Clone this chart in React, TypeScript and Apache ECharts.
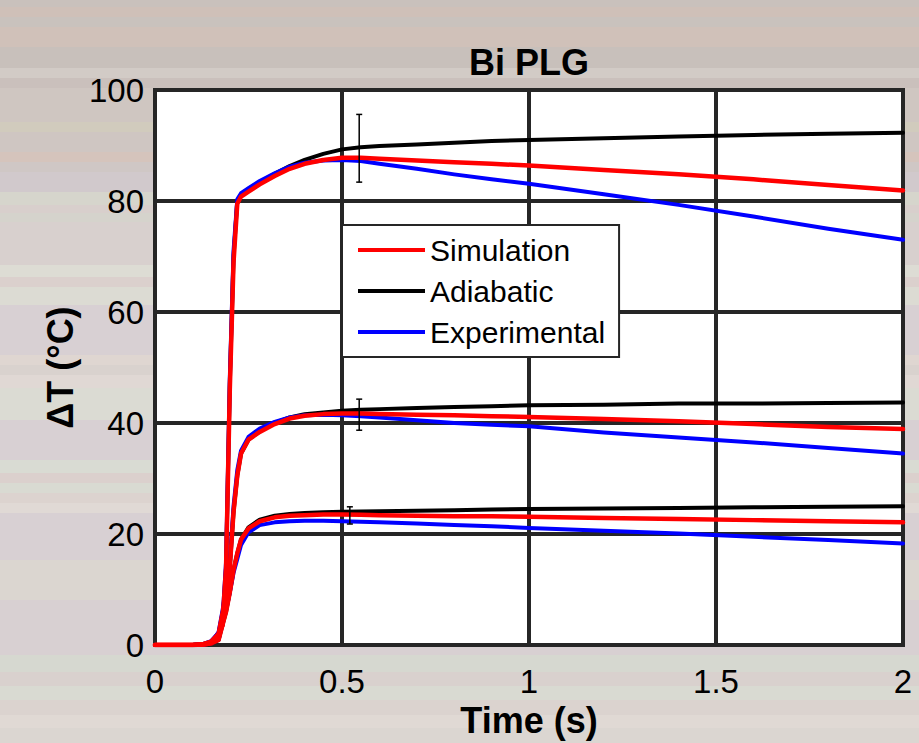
import React, { useEffect, useRef } from "react";
import * as echarts from "echarts";

// ---------- data ----------
const time = [0, 0.05, 0.1, 0.13, 0.15, 0.17, 0.18, 0.19, 0.2, 0.21, 0.22, 0.23, 0.25, 0.28, 0.32, 0.36, 0.4, 0.45, 0.5, 0.55, 0.6, 0.7, 0.8, 0.9, 1.0, 1.2, 1.4, 1.6, 1.8, 2.0];

const highAdiabatic = [0, 0, 0, 0.1, 0.3, 0.9, 3.5, 14, 47, 70, 80, 81.2, 82.2, 83.4, 84.9, 86.3, 87.4, 88.5, 89.3, 89.7, 89.9, 90.2, 90.5, 90.8, 91.0, 91.3, 91.6, 91.9, 92.1, 92.3];
const highSimulation = [0, 0, 0, 0.1, 0.3, 0.9, 3.5, 14, 46, 69, 79.5, 80.8, 81.7, 83.0, 84.5, 85.8, 86.7, 87.4, 87.8, 87.8, 87.6, 87.3, 87.0, 86.7, 86.4, 85.6, 84.8, 83.9, 82.9, 81.9];
const highExperimental = [0, 0, 0, 0.1, 0.3, 1.0, 4, 15, 48, 71, 80.3, 81.4, 82.3, 83.6, 85.0, 86.2, 86.9, 87.3, 87.4, 87.2, 86.7, 85.8, 84.8, 83.9, 83.1, 81.2, 79.3, 77.2, 75.0, 73.0];

const midAdiabatic = [0, 0, 0, 0.1, 0.3, 2, 5.5, 9, 14, 24, 30.5, 34.5, 37, 38.5, 40, 41, 41.6, 41.9, 42.2, 42.4, 42.5, 42.7, 42.9, 43.0, 43.2, 43.3, 43.5, 43.5, 43.6, 43.7];
const midSimulation = [0, 0, 0, 0.1, 0.3, 2, 5.5, 9, 14, 24, 30.5, 34.5, 37, 38.4, 39.8, 40.8, 41.3, 41.6, 41.7, 41.7, 41.6, 41.5, 41.4, 41.2, 41.1, 40.7, 40.3, 39.8, 39.3, 38.9];
const midExperimental = [0, 0, 0, 0.1, 0.4, 2.3, 6, 10, 15, 25, 31.5, 35, 37.5, 39, 40.2, 41, 41.4, 41.5, 41.4, 41.2, 41.0, 40.5, 40.0, 39.7, 39.4, 38.3, 37.4, 36.5, 35.5, 34.5];

const lowAdiabatic = [0, 0, 0, 0.2, 0.6, 2, 3.5, 6, 9.5, 13.5, 16.5, 19, 21.2, 22.6, 23.3, 23.6, 23.8, 23.9, 24.0, 24.05, 24.1, 24.2, 24.3, 24.4, 24.5, 24.6, 24.7, 24.8, 24.9, 25.0];
const lowSimulation = [0, 0, 0, 0.2, 0.6, 2, 3.5, 6, 9.5, 13.5, 16.5, 19, 21, 22.3, 23.0, 23.3, 23.4, 23.5, 23.5, 23.45, 23.4, 23.3, 23.2, 23.2, 23.1, 22.9, 22.7, 22.5, 22.3, 22.1];
const lowExperimental = [0, 0, 0, 0.2, 0.7, 2.2, 3.8, 6.3, 9.5, 13, 15.5, 18, 20.3, 21.6, 22.1, 22.3, 22.4, 22.4, 22.3, 22.2, 22.1, 21.9, 21.6, 21.4, 21.1, 20.6, 20.1, 19.5, 18.9, 18.3];

// [time, low, high]
const errorBars = [
  [0.546, 83.4, 95.6],
  [0.546, 38.7, 44.3],
  [0.521, 21.8, 24.9],
];

const legendNames = ["Simulation", "Adiabatic", "Experimental"];
const xMin = 0, xMax = 2, xStep = 0.5;
const yMin = 0, yMax = 100, yStep = 20;

// ---------- styling ----------
const FONT = "'Liberation Sans', Arial, Helvetica, sans-serif";
const GRID = "#262626";
const COLORS: Record<string, string> = { Simulation: "#ff0000", Adiabatic: "#000000", Experimental: "#0000ff" };

const stripes: [number, number, string][] = [
  [0, 7, "#c9c1bc"], [7, 17, "#cfc0b8"], [17, 27, "#c9c2bd"], [27, 47, "#d0c1b9"],
  [47, 68, "#c8c0bb"], [68, 78, "#d2cbc6"], [78, 88, "#cac0bc"], [88, 122, "#cfc6c1"],
  [122, 132, "#d1cbbd"], [132, 152, "#cfc6c2"], [152, 162, "#d5c4bc"], [162, 172, "#cfc7c5"],
  [172, 192, "#d1c9cc"], [192, 205, "#d6d5cc"], [205, 213, "#d8cfcc"], [213, 222, "#d5d3cc"],
  [222, 265, "#d8d0ce"], [265, 277, "#dddcd4"], [277, 287, "#dbd0cd"], [287, 305, "#dcdbd3"],
  [305, 355, "#d8d0d3"], [355, 365, "#dfd6d1"], [365, 375, "#d9d2ce"], [375, 388, "#e0d8d4"],
  [388, 420, "#dbdbd3"], [420, 460, "#d8d0d3"], [460, 473, "#d9dbd3"], [473, 483, "#dbd0cd"],
  [483, 493, "#d9dad2"], [493, 503, "#dcd3cf"], [503, 513, "#e0d9d5"], [513, 560, "#d8d0d3"],
  [560, 600, "#dbd6d0"], [600, 655, "#d8d0d2"], [655, 672, "#d6d8d0"], [672, 686, "#d9d1ce"],
  [686, 700, "#d9dad2"], [700, 715, "#dbd3cf"], [715, 728, "#e0d9d4"], [728, 743, "#dbd6d1"],
];
const bgGradient =
  "linear-gradient(to bottom, " +
  stripes.map(([a, b, c]) => `${c} ${a}px, ${c} ${b}px`).join(", ") +
  ")";

function pairs(ys: number[]) {
  return time.map((t, i) => [t, ys[i]]);
}

export default function App() {
  const ref = useRef<HTMLDivElement>(null);

  useEffect(() => {
    if (!ref.current) return;
    const chart = echarts.init(ref.current, null, { renderer: "svg" });

    const groups = [
      { name: "Adiabatic", sets: [highAdiabatic, midAdiabatic, lowAdiabatic], width: 4 },
      { name: "Experimental", sets: [highExperimental, midExperimental, lowExperimental], width: 4 },
      { name: "Simulation", sets: [highSimulation, midSimulation, lowSimulation], width: 4.5 },
    ];

    const lineSeries: any[] = [];
    groups.forEach((g) => {
      g.sets.forEach((ys) => {
        lineSeries.push({
          type: "line",
          name: g.name,
          data: pairs(ys),
          showSymbol: false,
          symbol: "none",
          smooth: false,
          color: COLORS[g.name],
          lineStyle: { color: COLORS[g.name], width: g.width, join: "round", cap: "round" },
          itemStyle: { color: COLORS[g.name] },
          silent: true,
          z: 3,
        });
      });
    });

    const errSeries = {
      type: "custom",
      name: "error",
      data: errorBars,
      encode: { x: 0, y: [1, 2] },
      silent: true,
      z: 10,
      renderItem: (params: any, api: any) => {
        const x = api.value(0);
        const lo = api.coord([x, api.value(1)]);
        const hi = api.coord([x, api.value(2)]);
        const cap = 3;
        const st = { stroke: "#000", lineWidth: 1.5 };
        return {
          type: "group",
          children: [
            { type: "line", shape: { x1: lo[0], y1: lo[1], x2: hi[0], y2: hi[1] }, style: st },
            { type: "line", shape: { x1: lo[0] - cap, y1: lo[1], x2: lo[0] + cap, y2: lo[1] }, style: st },
            { type: "line", shape: { x1: hi[0] - cap, y1: hi[1], x2: hi[0] + cap, y2: hi[1] }, style: st },
          ],
        };
      },
    };

    chart.setOption({
      animation: false,
      backgroundColor: "transparent",
      textStyle: { fontFamily: FONT },
      graphic: [
        {
          type: "text",
          x: 529,
          y: 62,
          z: 20,
          style: {
            text: "Bi PLG",
            font: `bold 36px ${FONT}`,
            fill: "#000",
            textAlign: "center",
            textVerticalAlign: "middle",
          },
        },
      ],
      grid: {
        left: 155,
        right: 16,
        top: 90,
        bottom: 98,
        show: true,
        backgroundColor: "#ffffff",
        borderColor: GRID,
        borderWidth: 4,
        containLabel: false,
        outerBoundsMode: "none",
      },
      legend: {
        data: legendNames,
        orient: "vertical",
        left: 342,
        top: 225,
        backgroundColor: "#ffffff",
        borderColor: GRID,
        borderWidth: 2,
        borderRadius: 0,
        padding: [10, 14, 10, 16],
        itemWidth: 67,
        itemHeight: 4,
        itemGap: 11,
        icon: "rect",
        selectedMode: false,
        textStyle: { fontSize: 30, fontFamily: FONT, color: "#000", lineHeight: 30 },
        z: 15,
      },
      xAxis: {
        type: "value",
        min: xMin,
        max: xMax,
        interval: xStep,
        axisLine: { show: false },
        axisTick: { show: false },
        splitLine: { show: true, lineStyle: { color: GRID, width: 4 } },
        axisLabel: { fontSize: 33, color: "#000", margin: 20, fontFamily: FONT },
        name: "Time (s)",
        nameLocation: "middle",
        nameGap: 57,
        nameTextStyle: { fontSize: 36, fontWeight: "bold", color: "#000", fontFamily: FONT, lineHeight: 36 },
      },
      yAxis: {
        type: "value",
        min: yMin,
        max: yMax,
        interval: yStep,
        axisLine: { show: false },
        axisTick: { show: false },
        splitLine: { show: true, lineStyle: { color: GRID, width: 4 } },
        axisLabel: { fontSize: 33, color: "#000", margin: 11, fontFamily: FONT },
        name: "ΔT (°C)",
        nameLocation: "middle",
        nameGap: 76,
        nameTextStyle: { fontSize: 36, fontWeight: "bold", color: "#000", fontFamily: FONT },
      },
      series: [...lineSeries, errSeries],
    });

    return () => chart.dispose();
  }, []);

  return (
    <div
      style={{
        position: "fixed",
        left: 0,
        top: 0,
        width: 919,
        height: 743,
        background: bgGradient,
        overflow: "hidden",
      }}
    >
      <div ref={ref} style={{ width: 919, height: 743 }} />
    </div>
  );
}
